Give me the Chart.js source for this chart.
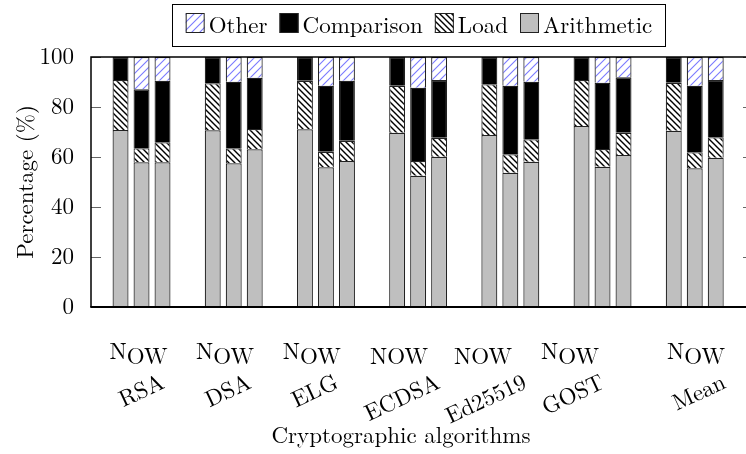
<!DOCTYPE html>
<html>
<head>
<meta charset="utf-8">
<script src="https://cdn.jsdelivr.net/npm/chart.js@4.4.1/dist/chart.umd.min.js"></script>
<style>
  html, body { margin: 0; padding: 0; background: #fff; }
</style>
</head>
<body>
<canvas id="chart" width="746" height="454"></canvas>
<script>
var algorithms = ['RSA', 'DSA', 'ELG', 'ECDSA', 'Ed25519', 'GOST', 'Mean'];
var variants = ['N', 'O', 'W'];
var yTicks = [0, 20, 40, 60, 80, 100];

// share of each instruction class (%), one array per variant
var arithmeticN = [70.8, 70.7, 71.1, 69.7, 68.8, 72.4, 70.5];
var loadN       = [20.0, 18.8, 19.4, 18.8, 20.3, 18.4, 19.2];
var comparisonN = [ 9.2, 10.5,  9.5, 11.5, 10.9,  9.2, 10.3];
var otherN      = [ 0,    0,    0,    0,    0,    0,    0  ];

var arithmeticO = [57.9, 57.5, 55.9, 52.5, 53.7, 56.1, 55.5];
var loadO       = [ 5.6,  6.0,  6.2,  5.9,  7.4,  7.1,  6.4];
var comparisonO = [23.6, 26.6, 26.4, 29.3, 27.4, 26.5, 26.6];
var otherO      = [12.9,  9.9, 11.5, 12.3, 11.5, 10.3, 11.5];

var arithmeticW = [57.9, 63.1, 58.4, 60.1, 58.1, 60.8, 59.7];
var loadW       = [ 8.0,  8.1,  8.1,  7.6,  9.0,  8.9,  8.2];
var comparisonW = [24.6, 20.5, 24.0, 23.1, 23.0, 22.2, 22.9];
var otherW      = [ 9.5,  8.3,  9.5,  9.2,  9.9,  8.1,  9.2];

var series = {
  N: [arithmeticN, loadN, comparisonN, otherN],
  O: [arithmeticO, loadO, comparisonO, otherO],
  W: [arithmeticW, loadW, comparisonW, otherW]
};
var classNames = ['Arithmetic', 'Load', 'Comparison', 'Other'];

var SERIF = '"Latin Modern Roman"';

function hatch(size, color, width, dir) {
  var c = document.createElement('canvas');
  c.width = size; c.height = size;
  var g = c.getContext('2d');
  g.fillStyle = '#fff';
  g.fillRect(0, 0, size, size);
  g.strokeStyle = color;
  g.lineWidth = width;
  g.beginPath();
  if (dir > 0) { // north east
    g.moveTo(-1, size + 1); g.lineTo(size + 1, -1);
    g.moveTo(-1, 1); g.lineTo(1, -1);
    g.moveTo(size - 1, size + 1); g.lineTo(size + 1, size - 1);
  } else { // north west
    g.moveTo(-1, -1); g.lineTo(size + 1, size + 1);
    g.moveTo(size - 1, -1); g.lineTo(size + 1, 1);
    g.moveTo(-1, size - 1); g.lineTo(1, size + 1);
  }
  g.stroke();
  return g.createPattern(c, 'repeat');
}

var fills = [
  '#bfbfbf',
  hatch(6, '#000', 1.4, -1),
  '#000',
  hatch(8, '#7a7aff', 1.1, 1)
];

var datasets = [];
variants.forEach(function(v) {
  series[v].forEach(function(arr, k) {
    datasets.push({
      label: classNames[k],
      stack: v,
      data: arr.map(function(y, i) { return { x: i, y: y }; }),
      backgroundColor: fills[k],
      borderColor: '#222',
      borderWidth: 1.2,
      categoryPercentage: 0.683,
      barPercentage: 0.76
    });
  });
});

// label layout (pixel shifts)
var labelShift = [-3, -8.7, -14.2, -19, -27.3, -32.5, 1.3];
var raisedN = [true, true, true, false, false, true, true];

var decor = {
  id: 'decor',
  afterDraw: function(chart) {
    var ctx = chart.ctx;
    var a = chart.chartArea;
    var xs = chart.scales.x, ys = chart.scales.y;
    ctx.save();

    // inner ticks
    ctx.strokeStyle = '#666';
    ctx.lineWidth = 1;
    yTicks.forEach(function(v) {
      var y = Math.round(ys.getPixelForValue(v)) + 0.5;
      ctx.beginPath();
      ctx.moveTo(a.left, y); ctx.lineTo(a.left + 10, y);
      ctx.moveTo(a.right - 3, y); ctx.lineTo(a.right, y);
      ctx.stroke();
    });

    // frame
    ctx.strokeStyle = '#000';
    ctx.lineWidth = 1.5;
    ctx.beginPath();
    ctx.moveTo(a.right, a.top); ctx.lineTo(a.left, a.top); ctx.lineTo(a.left, a.bottom);
    ctx.stroke();
    ctx.lineWidth = 2.2;
    ctx.beginPath();
    ctx.moveTo(a.left - 0.7, a.bottom); ctx.lineTo(a.right, a.bottom);
    ctx.stroke();

    // N O W labels and algorithm names
    ctx.fillStyle = '#000';
    ctx.textBaseline = 'alphabetic';
    ctx.textAlign = 'left';
    algorithms.forEach(function(name, i) {
      ctx.font = '23px ' + SERIF;
      var cx = xs.getPixelForValue(i) + labelShift[i];
      var wN = ctx.measureText('N').width;
      var wOW = ctx.measureText('OW').width;
      var x0 = cx - (wN + wOW) / 2;
      ctx.fillText('N', x0, raisedN[i] ? 359 : 364);
      ctx.fillText('OW', x0 + wN, 364);

      var w = ctx.measureText(name).width;
      var ang = 25 * Math.PI / 180;
      var nx = cx + 3 + (w / 2) * Math.cos(ang);
      ctx.save();
      ctx.translate(nx, 381);
      ctx.rotate(-ang);
      ctx.textAlign = 'right';
      ctx.textBaseline = 'middle';
      ctx.fillText(name, 0, 0);
      ctx.restore();
    });

    ctx.font = '23px ' + SERIF;
    ctx.textAlign = 'center';
    ctx.fillText('Cryptographic algorithms', 401, 443);

    // legend (reverse stacking order)
    var items = chart.data.datasets.slice(0, 4).reverse();
    var sw = 19, sh = 20, gapText = 4, gapItem = 12;
    var total = 0;
    items.forEach(function(d, k) {
      total += sw + gapText + ctx.measureText(d.label).width + (k < items.length - 1 ? gapItem : 0);
    });
    var bx0 = 172.5, bx1 = 665.5;
    var x = (bx0 + bx1) / 2 - total / 2;
    ctx.lineWidth = 1;
    ctx.strokeStyle = '#000';
    ctx.strokeRect(bx0, 4.5, bx1 - bx0, 42);
    ctx.textAlign = 'left';
    ctx.textBaseline = 'alphabetic';
    items.forEach(function(d) {
      ctx.fillStyle = d.backgroundColor;
      ctx.fillRect(x, 13, sw, sh);
      ctx.strokeStyle = '#222';
      ctx.lineWidth = 1;
      ctx.strokeRect(x + 0.5, 13.5, sw - 1, sh - 1);
      x += sw + gapText;
      ctx.fillStyle = '#000';
      ctx.fillText(d.label, x, 33);
      x += ctx.measureText(d.label).width + gapItem;
    });

    ctx.restore();
  }
};

function draw() {
  new Chart(document.getElementById('chart').getContext('2d'), {
    type: 'bar',
    data: { datasets: datasets },
    options: {
      responsive: false,
      animation: false,
      devicePixelRatio: 1,
      layout: { padding: { top: 57, bottom: 147, left: 0, right: 0 } },
      plugins: { legend: { display: false }, tooltip: { enabled: false } },
      scales: {
        x: {
          type: 'linear',
          display: false,
          stacked: true,
          offset: false,
          min: -0.548,
          max: 6.556,
          ticks: { stepSize: 1, includeBounds: false }
        },
        y: {
          stacked: true,
          min: 0,
          max: 100,
          afterBuildTicks: function(s) { s.ticks = yTicks.map(function(v) { return { value: v }; }); },
          afterFit: function(s) { s.width = 91; },
          grid: { display: false },
          border: { display: false },
          ticks: { padding: 9, color: '#000', font: { family: SERIF, size: 23 } },
          title: {
            display: true,
            text: 'Percentage (%)',
            color: '#000',
            font: { family: SERIF, size: 23 },
            padding: { top: 12, bottom: 0 }
          }
        }
      }
    },
    plugins: [decor]
  });
}

if (document.fonts && document.fonts.load) {
  document.fonts.load('23px "Latin Modern Roman"').then(draw, draw);
} else {
  draw();
}
</script>
</body>
</html>
